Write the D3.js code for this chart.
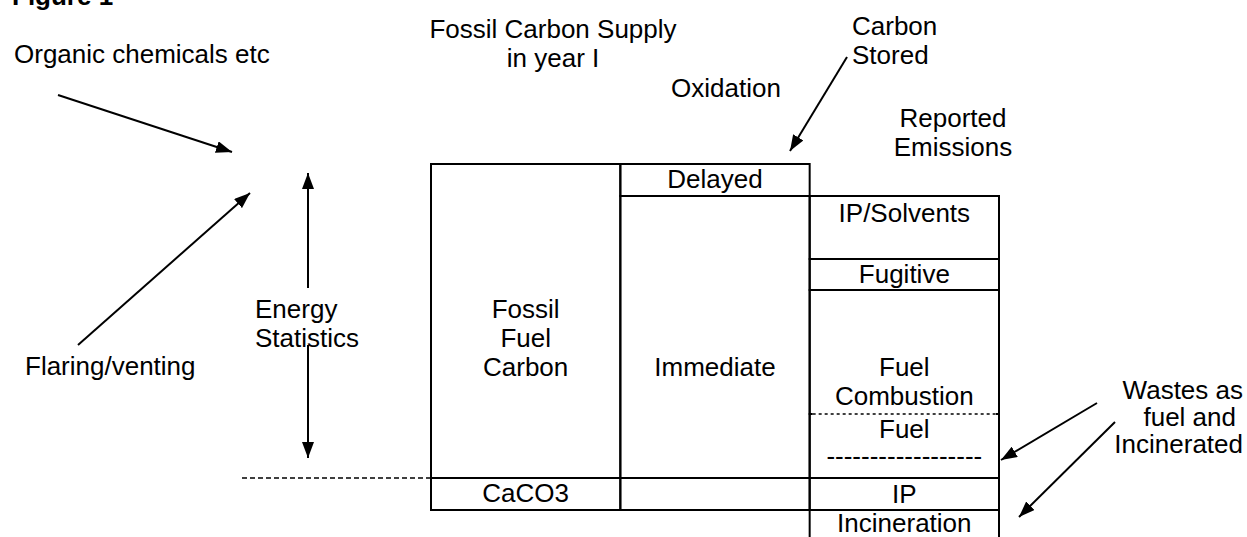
<!DOCTYPE html>
<html>
<head>
<meta charset="utf-8">
<script src="https://cdn.jsdelivr.net/npm/d3@7"></script>
<style>
  body { margin: 0; background: #fff; }
  svg text { font-family: "Liberation Sans", Arial, sans-serif; font-size: 26px; fill: #000; }
</style>
</head>
<body>
<div id="figure"></div>
<script>
// columns of the carbon balance (left -> right)
var columns = ["supply", "oxidation", "emissions"];

// stacked cells of each column, top -> bottom, in carbon units
var supplyCells = [
  { label: ["Fossil", "Fuel", "Carbon"], value: 314 },
  { label: ["CaCO3"], value: 32 }
];
var oxidationCells = [
  { label: ["Delayed"], value: 32 },
  { label: ["Immediate"], value: 282 },
  { label: [""], value: 32 }
];
var emissionCells = [
  { label: null, value: 32 },              // nothing above the emissions column
  { label: ["IP/Solvents"], value: 63 },
  { label: ["Fugitive"], value: 31 },
  { label: ["Fuel", "Combustion"], value: 124 },
  { label: ["Fuel", "------------------"], value: 64, dotted: true },
  { label: ["IP"], value: 32 },
  { label: ["Incineration"], value: 40, open: true }
];

var width = 1247, height = 537;

var svg = d3.select("#figure")
  .append("svg")
    .attr("width", width)
    .attr("height", height);

// arrow head
svg.append("defs").append("marker")
    .attr("id", "head")
    .attr("viewBox", "0 0 16 12")
    .attr("refX", 16).attr("refY", 6)
    .attr("markerWidth", 16).attr("markerHeight", 12)
    .attr("markerUnits", "userSpaceOnUse")
    .attr("orient", "auto-start-reverse")
  .append("path")
    .attr("d", "M0,0 L16,6 L0,12 Z")
    .attr("fill", "#000");

var x = d3.scaleBand()
    .domain(columns)
    .range([431, 999])
    .padding(0);

var y = d3.scaleLinear()
    .domain([0, 373])
    .range([164, 537]);

// stack cells per column
function stackCells(cells) {
  var acc = 0;
  return cells.map(function(c) {
    var s = { label: c.label, y0: acc, y1: acc + c.value, dotted: c.dotted, open: c.open };
    acc += c.value;
    return s;
  });
}
var stacks = [
  { key: "supply", cells: stackCells(supplyCells) },
  { key: "oxidation", cells: stackCells(oxidationCells) },
  { key: "emissions", cells: stackCells(emissionCells) }
];

var boxes = svg.append("g");
stacks.forEach(function(col) {
  var x0 = x(col.key), bw = x.bandwidth();
  col.cells.forEach(function(c) {
    if (c.label === null) return;
    var top = y(c.y0), bot = y(c.y1);
    if (c.open) {
      // open at the bottom (runs off the page)
      boxes.append("path")
        .attr("d", "M" + x0 + "," + bot + " V" + top + " H" + (x0 + bw) + " V" + bot)
        .attr("fill", "none").attr("stroke", "#000").attr("stroke-width", 2);
    } else {
      boxes.append("rect")
        .attr("x", x0).attr("y", top)
        .attr("width", bw).attr("height", bot - top)
        .attr("fill", "none").attr("stroke", "#000").attr("stroke-width", 2);
    }
    if (c.dotted) {
      boxes.append("line")
        .attr("x1", x0 + 3).attr("x2", x0 + bw - 3)
        .attr("y1", top).attr("y2", top)
        .attr("stroke", "#fff").attr("stroke-width", 3);
      boxes.append("line")
        .attr("x1", x0 + 3).attr("x2", x0 + bw - 3)
        .attr("y1", top).attr("y2", top)
        .attr("stroke", "#000").attr("stroke-width", 1.5)
        .attr("stroke-dasharray", "3,3");
    }
  });
});

// labels inside the cells
var labelBase = {
  "Fossil": 318, "Delayed": 188, "Immediate": 376, "CaCO3": 502,
  "IP/Solvents": 222, "Fugitive": 283, "Fuel": 376, "IP": 503, "Incineration": 532
};
stacks.forEach(function(col) {
  var cx = x(col.key) + x.bandwidth() / 2;
  col.cells.forEach(function(c, i) {
    if (!c.label || !c.label[0]) return;
    var b = labelBase[c.label[0]];
    if (c.dotted) b = 438;
    var t = svg.append("text").attr("text-anchor", "middle");
    c.label.forEach(function(line, j) {
      t.append("tspan").attr("x", cx).attr("y", b + j * (c.dotted ? 27 : 29)).text(line);
    });
  });
});

// dashed "energy statistics" base line
svg.append("line")
    .attr("x1", 242).attr("x2", x("supply"))
    .attr("y1", y(314)).attr("y2", y(314))
    .attr("stroke", "#000").attr("stroke-width", 1.5)
    .attr("stroke-dasharray", "5,3");

// free text
var notes = [
  { lines: ["Figure 1"], x: 12, y: 5, anchor: "start", bold: true },
  { lines: ["Organic chemicals etc"], x: 14, y: 63, anchor: "start" },
  { lines: ["Fossil Carbon Supply", "in year I"], x: 553, y: 38, anchor: "middle" },
  { lines: ["Oxidation"], x: 726, y: 97, anchor: "middle" },
  { lines: ["Carbon", "Stored"], x: 852, y: 35, anchor: "start" },
  { lines: ["Reported", "Emissions"], x: 953, y: 127, anchor: "middle" },
  { lines: ["Energy", "Statistics"], x: 255, y: 318, anchor: "start" },
  { lines: ["Flaring/venting"], x: 25, y: 375, anchor: "start" },
  { lines: ["Wastes as", "fuel and", "Incinerated"], x: [1243, 1236, 1243], y: 399, anchor: "end", gap: 27 }
];
notes.forEach(function(n) {
  var t = svg.append("text")
    .attr("text-anchor", n.anchor)
    .style("font-weight", n.bold ? "bold" : null);
  n.lines.forEach(function(line, j) {
    var lx = Array.isArray(n.x) ? n.x[j] : n.x;
    t.append("tspan").attr("x", lx).attr("y", n.y + j * (n.gap || 29)).text(line);
  });
});

// arrows
var arrows = [
  { from: [58, 95], to: [232, 152] },
  { from: [78, 345], to: [250, 193] },
  { from: [847, 57], to: [790, 151] },
  { from: [308, 288], to: [308, 173] },
  { from: [308, 345], to: [308, 458] },
  { from: [1097, 403], to: [1001, 460] },
  { from: [1115, 422], to: [1019, 517] }
];
svg.append("g").selectAll("line")
  .data(arrows)
  .enter().append("line")
    .attr("x1", function(d) { return d.from[0]; })
    .attr("y1", function(d) { return d.from[1]; })
    .attr("x2", function(d) { return d.to[0]; })
    .attr("y2", function(d) { return d.to[1]; })
    .attr("stroke", "#000")
    .attr("stroke-width", 2)
    .attr("marker-end", "url(#head)");
</script>
</body>
</html>
